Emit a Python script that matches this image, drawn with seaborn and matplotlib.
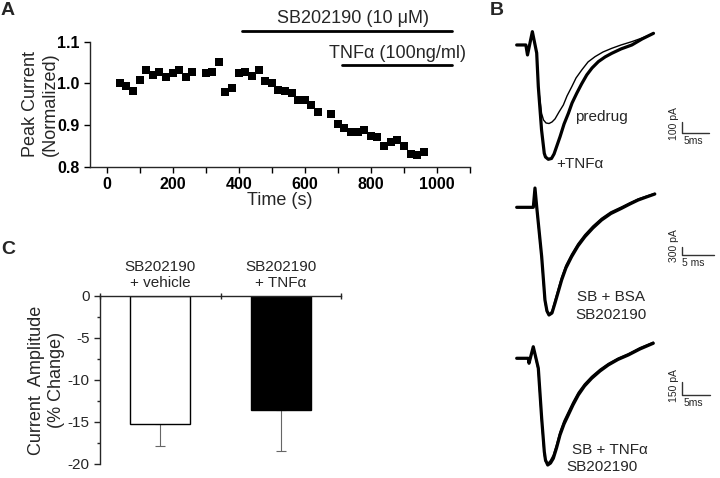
import matplotlib
matplotlib.use("Agg")
import matplotlib.pyplot as plt
import seaborn as sns

# panel A: peak current time course
time_s = [40, 60, 80, 100, 120, 140, 160, 180, 200, 220, 240, 260,
          300, 320, 340, 360, 380, 400, 420, 440, 460, 480, 500, 520, 540, 560, 580, 600, 620, 640,
          680, 700, 720, 740, 760, 780, 800, 820, 840, 860, 880, 900, 920, 940, 960]
peak_current = [1.000, 0.994, 0.983, 1.008, 1.032, 1.020, 1.028, 1.016, 1.024, 1.032, 1.016, 1.028,
                1.026, 1.027, 1.052, 0.979, 0.989, 1.024, 1.028, 1.018, 1.032, 1.007, 1.000, 0.985,
                0.981, 0.978, 0.961, 0.961, 0.949, 0.931,
                0.927, 0.903, 0.893, 0.883, 0.884, 0.889, 0.875, 0.872, 0.851, 0.859, 0.864, 0.851,
                0.832, 0.829, 0.837]
sb_period = [411, 1045]
tnf_period = [713, 1045]

# panel B: example traces (ms, pA)
predrug_t = [0, 1.7, 2.0, 2.9, 3.7, 4.0, 4.6, 4.96, 5.43, 5.98, 6.54, 7.09, 7.83, 8.63, 9.31,
             10.19, 10.98, 12.04, 13.2, 14.5, 15.98, 17.59, 19.3, 21.3, 23.2, 25.3]
predrug_pA = [0, 0, -96, 128, -77, -401, -657, -721, -750, -755, -740, -711, -644, -577, -490,
              -401, -317, -240, -163, -112, -67, -32, 0, 32, 67, 112]
tnf_t = [0, 1.7, 2.0, 2.9, 3.7, 4.0, 4.6, 5.1, 5.33, 5.85, 6.44, 6.91, 8.02, 8.76, 9.56, 10.24,
         11.11, 12.0, 12.96, 13.94, 15.11, 16.35, 17.59, 19.3, 21.3, 23.2, 25.3]
tnf_pA = [0, 0, -96, 128, -77, -401, -817, -1041, -1077, -1099, -1091, -1048, -882, -760, -657, -558,
          -464, -375, -288, -221, -160, -115, -80, -38, 0, 58, 112]

bsa_t = [0, 2.6, 2.86, 3.13, 3.91, 4.42, 4.73, 5.05, 5.52, 5.98, 7.03, 7.70, 8.59, 9.58, 10.67,
         11.92, 13.28, 14.73, 16.4, 17.7, 19.0, 20.28, 21.6]
bsa_pA = [0, 0, 697, 22, -1783, -3347, -3740, -3888, -3816, -3466, -2625, -2191, -1783, -1397, -1061,
          -747, -458, -224, -36, 119, 264, 372, 480]
bsa2_pA = [0, 0, 650, 0, -1850, -3400, -3780, -3860, -3760, -3380, -2530, -2100, -1700, -1320, -990,
           -680, -400, -170, 10, 160, 300, 400, 500]

sbt_t = [0, 2.07, 2.2, 2.96, 3.86, 4.46, 4.93, 5.14, 5.54, 6.04, 6.54, 7.11, 7.73, 8.45, 9.21,
         10.05, 11.0, 12.11, 13.39, 14.88, 16.36, 18.09, 19.93, 22.02, 24.39]
sbt_pA = [0, 0, -56, 130, -112, -675, -1051, -1144, -1200, -1178, -1125, -1009, -863, -739, -638,
          -525, -413, -312, -225, -143, -75, -13, 37, 105, 169]
sbt2_pA = [0, 0, -56, 120, -130, -700, -1080, -1160, -1185, -1150, -1090, -975, -830, -705, -605,
           -495, -385, -290, -205, -125, -60, 0, 50, 118, 180]

# panel C: summary
groups = ["SB202190\n+ vehicle", "SB202190\n+ TNFα"]
pct_change = [-15.2, -13.6]
sem = [2.7, 4.8]

sns.set_theme(style="ticks")
plt.rcParams["font.family"] = ["Liberation Sans", "DejaVu Sans"]
plt.rcParams["axes.unicode_minus"] = False
plt.rcParams["axes.linewidth"] = 1.0

fig = plt.figure(figsize=(7.2, 4.78), dpi=100)

# ---- A ----
axA = fig.add_axes([0.125, 0.6506, 0.5278, 0.2621])
sns.scatterplot(x=time_s, y=peak_current, marker="s", s=30, color="black",
                linewidth=0, ax=axA, legend=False)
axA.set_xlim(-50, 1100)
axA.set_ylim(0.8, 1.1)
axA.set_xticks([0, 200, 400, 600, 800, 1000])
axA.set_xticks(range(100, 1101, 200), minor=True)
axA.set_yticks([0.8, 0.9, 1.0, 1.1])
axA.set_yticklabels(["0.8", "0.9", "1.0", "1.1"])
axA.tick_params(which="both", direction="out", length=4, width=1, labelsize=11.5, colors="black")
for lab in axA.get_xticklabels() + axA.get_yticklabels():
    lab.set_fontweight("bold")
sns.despine(ax=axA)
axA.set_xlabel("Time (s)", fontsize=13, labelpad=0)
axA.set_ylabel("Peak Current\n(Normalized)", fontsize=13, labelpad=-1)
axA.plot(sb_period, [1.1255, 1.1255], color="black", lw=2, clip_on=False)
axA.plot(tnf_period, [1.0445, 1.0445], color="black", lw=2, clip_on=False)
axA.text(746, 1.156, "SB202190 (10 μM)", ha="center", va="center", fontsize=13)
axA.text(882, 1.073, "TNFα (100ng/ml)", ha="center", va="center", fontsize=13)

# ---- B ----
def scale_bar(ax, corner, ms, pA, ylab, xlab):
    x0, y0 = corner
    ax.plot([x0, x0, x0 + ms], [y0 + pA, y0, y0], color="#333333", lw=1)
    ax.annotate(ylab, (x0, y0), xytext=(-5.5, 6.5), textcoords="offset points",
                rotation=90, ha="center", va="center", fontsize=7.5)
    ax.annotate(xlab, (x0, y0), xytext=(8.5, -6), textcoords="offset points",
                ha="center", va="center", fontsize=7.5)

axB1 = fig.add_axes([0.7083, 0.6339, 0.2917, 0.3138])
sns.lineplot(x=predrug_t, y=predrug_pA, color="black", linewidth=1, ax=axB1,
             estimator=None, sort=False)
sns.lineplot(x=tnf_t, y=tnf_pA, color="black", linewidth=2.3, ax=axB1,
             estimator=None, sort=False)
axB1.set_xlim(-1.24, 37.6)
axB1.set_ylim(-1250, 192)
scale_bar(axB1, (30.5, -843), 5, 100, "100 pA", "5ms")
axB1.text(10.8, -689, "predrug", ha="left", va="center", fontsize=11)
axB1.text(7.4, -1144, "+TNFα", ha="left", va="center", fontsize=11)

axB2 = fig.add_axes([0.7083, 0.3096, 0.2917, 0.3138])
sns.lineplot(x=bsa_t, y=bsa_pA, color="black", linewidth=2.3, ax=axB2,
             estimator=None, sort=False)
sns.lineplot(x=bsa_t, y=bsa2_pA, color="black", linewidth=1.2, ax=axB2,
             estimator=None, sort=False)
axB2.set_xlim(-1.05, 31.8)
axB2.set_ylim(-4430, 986)
scale_bar(axB2, (25.8, -1722), 5, 300, "300 pA", "5 ms")
axB2.text(9.4, -3227, "SB + BSA", ha="left", va="center", fontsize=11)
axB2.text(9.1, -3888, "SB202190", ha="left", va="center", fontsize=11)

axB3 = fig.add_axes([0.7083, 0.0, 0.2917, 0.2992])
sns.lineplot(x=sbt_t, y=sbt_pA, color="black", linewidth=2.3, ax=axB3,
             estimator=None, sort=False)
sns.lineplot(x=sbt_t, y=sbt2_pA, color="black", linewidth=1.2, ax=axB3,
             estimator=None, sort=False)
axB3.set_xlim(-1.2, 36.3)
axB3.set_ylim(-1346, 262)
scale_bar(axB3, (29.5, -413), 5, 150, "150 pA", "5ms")
axB3.text(9.8, -1030, "SB + TNFα", ha="left", va="center", fontsize=11)
axB3.text(8.9, -1220, "SB202190", ha="left", va="center", fontsize=11)

for ax in (axB1, axB2, axB3):
    ax.set_axis_off()

# ---- C ----
axC = fig.add_axes([0.1389, 0.0293, 0.3347, 0.3515])
sns.barplot(x=groups, y=pct_change, hue=groups, palette=["white", "black"],
            edgecolor="black", linewidth=1, width=0.5, legend=False, ax=axC)
axC.errorbar([0, 1], pct_change, yerr=[sem, [0, 0]], fmt="none", ecolor="#666666",
             elinewidth=0.8, capsize=3.5, capthick=0.8, zorder=0.5)
axC.set_xlim(-0.5, 1.5)
axC.set_ylim(-20, 0)
axC.xaxis.tick_top()
axC.set_xticks([0, 1])
axC.set_xticklabels(groups, fontsize=11)
axC.set_xticks([-0.5, 0.5, 1.5], minor=True)
axC.tick_params(axis="x", which="major", length=0, pad=4)
axC.tick_params(axis="x", which="minor", length=5, direction="inout", width=1)
axC.set_yticks([0, -5, -10, -15, -20])
axC.set_yticks([-2.5, -7.5, -12.5, -17.5], minor=True)
axC.tick_params(axis="y", which="major", direction="out", length=4, width=1, labelsize=11)
axC.tick_params(axis="y", which="minor", direction="out", length=2.5, width=1)
axC.spines["right"].set_visible(False)
axC.spines["bottom"].set_visible(False)
axC.set_xlabel("")
axC.set_ylabel("Current  Amplitude\n(% Change)", fontsize=13, labelpad=2)

# panel letters
fig.text(0.011, 0.979, "A", fontsize=14, fontweight="bold", ha="center", va="center")
fig.text(0.69, 0.979, "B", fontsize=14, fontweight="bold", ha="center", va="center")
fig.text(0.011, 0.479, "C", fontsize=14, fontweight="bold", ha="center", va="center")

fig.savefig("out.png", dpi=100)
